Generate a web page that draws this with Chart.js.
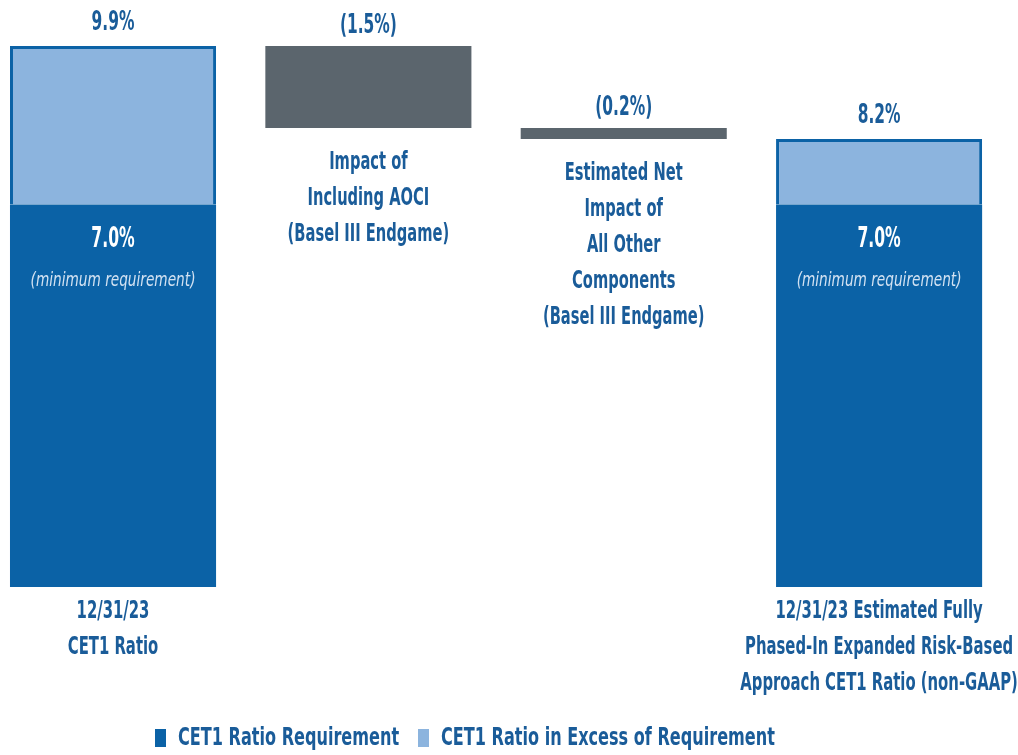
<!DOCTYPE html>
<html>
<head>
<meta charset="utf-8">
<script src="https://cdn.jsdelivr.net/npm/chart.js@4"></script>
<style>
  html, body { margin: 0; padding: 0; background: #fff; }
  #wrap { width: 1018px; height: 755px; position: relative; }
</style>
</head>
<body>
<div id="wrap"><canvas id="chart" width="1018" height="755"></canvas></div>
<script>
// Chart data
const categories = [
  ['12/31/23', 'CET1 Ratio'],
  ['Impact of', 'Including AOCI', '(Basel III Endgame)'],
  ['Estimated Net', 'Impact of', 'All Other', 'Components', '(Basel III Endgame)'],
  ['12/31/23 Estimated Fully', 'Phased-In Expanded Risk-Based', 'Approach CET1 Ratio (non-GAAP)']
];
const requirement = [7.0, null, null, 7.0];
const totals = [9.9, null, null, 8.2];
const changes = [null, -1.5, -0.2, null];
const seriesNames = ['CET1 Ratio Requirement', 'CET1 Ratio in Excess of Requirement'];

const BLUE = '#0b62a6';
const LIGHT = '#8cb4de';
const GRAY = '#5b656d';
const TEXT = '#1a5c99';
const FONT = '"DejaVu Sans Condensed", "DejaVu Sans", sans-serif';

// build floating bars (waterfall)
const reqBars = [], excessBars = [], changeBars = [];
let running = 0;
categories.forEach((c, i) => {
  if (totals[i] != null) {
    reqBars.push({ x: i, y: [0, requirement[i]] });
    excessBars.push({ x: i, y: [requirement[i], totals[i]] });
    running = totals[i];
  } else {
    const end = +(running + changes[i]).toFixed(2);
    changeBars.push({ x: i, y: [end, running] });
    running = end;
  }
});

const fmt = v => v < 0 ? '(' + Math.abs(v).toFixed(1) + '%)' : v.toFixed(1) + '%';

// condensed text: squeeze horizontally around the anchor point
function squeezed(ctx, text, x, y, sx) {
  ctx.save();
  ctx.translate(x, y);
  ctx.scale(sx, 1);
  ctx.fillText(text, 0, 0);
  ctx.restore();
}

const labelPlugin = {
  id: 'labels',
  afterDatasetsDraw(chart) {
    const { ctx, scales: { x, y } } = chart;
    ctx.save();
    ctx.textAlign = 'center';
    ctx.textBaseline = 'middle';
    let run = 0;
    categories.forEach((lines, i) => {
      const cx = x.getPixelForValue(i);
      let top, bottom;
      if (totals[i] != null) {
        run = totals[i];
        top = y.getPixelForValue(totals[i]);
        bottom = y.getPixelForValue(0);
        ctx.fillStyle = TEXT;
        ctx.font = 'bold 26px ' + FONT;
        squeezed(ctx, fmt(totals[i]), cx, top - 23, 0.66);
        const reqTop = y.getPixelForValue(requirement[i]);
        ctx.fillStyle = '#ffffff';
        ctx.font = 'bold 28px ' + FONT;
        squeezed(ctx, fmt(requirement[i]), cx, reqTop + 35, 0.62);
        ctx.fillStyle = '#d3e2f2';
        ctx.font = 'italic 20px ' + FONT;
        squeezed(ctx, '(minimum requirement)', cx, reqTop + 76, 0.76);
        ctx.fillStyle = TEXT;
        ctx.font = 'bold 25px ' + FONT;
        lines.forEach((t, k) => squeezed(ctx, t, cx, bottom + 24 + k * 36, 0.66));
      } else {
        top = y.getPixelForValue(run);
        run = run + changes[i];
        bottom = y.getPixelForValue(run);
        ctx.fillStyle = TEXT;
        ctx.font = 'bold 26px ' + FONT;
        squeezed(ctx, fmt(changes[i]), cx, top - 20, 0.66);
        ctx.font = 'bold 24px ' + FONT;
        lines.forEach((t, k) => squeezed(ctx, t, cx, bottom + 35 + k * 36, 0.68));
      }
    });
    // legend
    const items = [
      { text: seriesNames[0], color: BLUE, x: 155 },
      { text: seriesNames[1], color: LIGHT, x: 418 }
    ];
    ctx.textAlign = 'left';
    ctx.font = 'bold 24px ' + FONT;
    items.forEach(it => {
      ctx.fillStyle = it.color;
      ctx.fillRect(it.x, 729, 11, 18);
      ctx.fillStyle = TEXT;
      squeezed(ctx, it.text, it.x + 23, 739, 0.745);
    });
    ctx.restore();
  }
};

new Chart(document.getElementById('chart').getContext('2d'), {
  type: 'bar',
  data: {
    datasets: [
      { label: seriesNames[0], data: reqBars, backgroundColor: BLUE, borderColor: BLUE, borderWidth: 0 },
      { label: seriesNames[1], data: excessBars, backgroundColor: LIGHT, borderColor: BLUE, borderWidth: { top: 3, left: 3, right: 3, bottom: 0 }, borderSkipped: 'bottom' },
      { label: 'Change', data: changeBars, backgroundColor: GRAY, borderWidth: 0 }
    ]
  },
  options: {
    responsive: false,
    animation: false,
    layout: { padding: { top: 46, bottom: 168, left: 0, right: 0 } },
    datasets: { bar: { grouped: false, barPercentage: 1, categoryPercentage: 0.807 } },
    scales: {
      x: {
        type: 'linear', display: false, offset: false, min: -0.4426, max: 3.544,
        afterBuildTicks: axis => { axis.ticks = categories.map((c, i) => ({ value: i })); }
      },
      y: { display: false, min: 0, max: 9.9 }
    },
    plugins: { legend: { display: false }, tooltip: { enabled: false } }
  },
  plugins: [labelPlugin]
});
</script>
</body>
</html>
